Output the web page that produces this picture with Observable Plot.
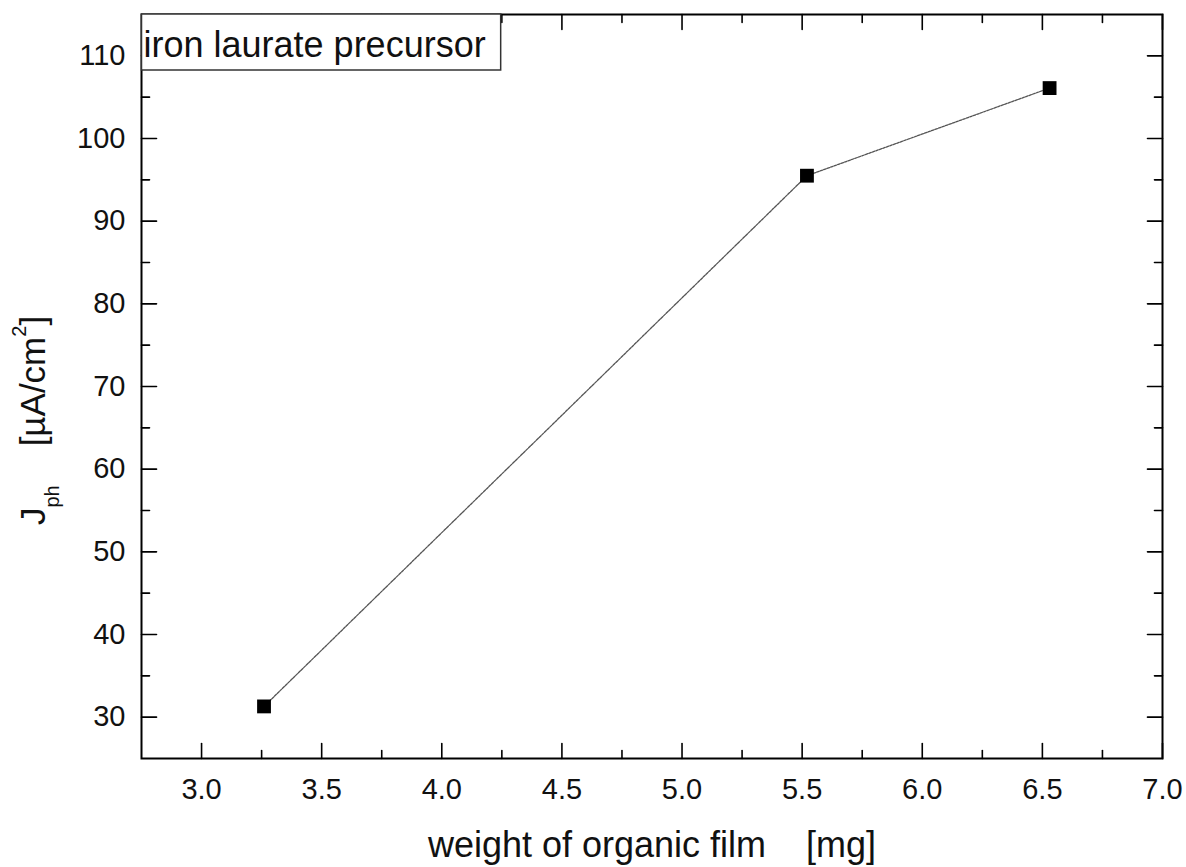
<!DOCTYPE html>
<html>
<head>
<meta charset="utf-8">
<script src="https://cdn.jsdelivr.net/npm/d3@7"></script>
<script src="https://cdn.jsdelivr.net/npm/@observablehq/plot@0.6"></script>
<style>
  html, body { margin: 0; padding: 0; background: white; }
  #chart { width: 1186px; height: 867px; }
</style>
</head>
<body>
<div id="chart"></div>
<script>
// ---- data ----
const weights = [3.26, 5.52, 6.53];          // weight of organic film [mg]
const currents = [31.3, 95.5, 106.1];        // J_ph [µA/cm²]
const xMajorTicks = [3.0, 3.5, 4.0, 4.5, 5.0, 5.5, 6.0, 6.5, 7.0];
const xMinorTicks = [3.25, 3.75, 4.25, 4.75, 5.25, 5.75, 6.25, 6.75];
const yMajorTicks = [30, 40, 50, 60, 70, 80, 90, 100, 110];
const yMinorTicks = [35, 45, 55, 65, 75, 85, 95, 105];
const xDomain = [2.75, 7.0];
const yDomain = [25, 115];
const legendLabel = "iron laurate precursor";
const xTitle = "weight of organic film\u00a0\u00a0\u00a0\u00a0[mg]";
const yTitleMain = "J";
const yTitleSub = "ph";
const yTitleUnit = "\u00a0\u00a0\u00a0\u00a0[\u00b5A/cm";
const yTitleSup = "2";
const yTitleEnd = "]";

const points = weights.map((w, i) => ({w, j: currents[i]}));

const FONT = '"Liberation Sans", Arial, Helvetica, sans-serif';
const tickLine = {draw(context, l) { context.moveTo(0, 0); context.lineTo(0, -l); }};
const MAJOR = 15, MINOR = 8;

function ticksX(values, len, anchor) {
  return Plot.vector(values, {
    x: d => d, frameAnchor: anchor, length: len, anchor: "start",
    rotate: anchor === "bottom" ? 0 : 180, shape: tickLine,
    stroke: "black", strokeWidth: 1.6
  });
}
function ticksY(values, len, anchor) {
  return Plot.vector(values, {
    y: d => d, frameAnchor: anchor, length: len, anchor: "start",
    rotate: anchor === "left" ? 90 : -90, shape: tickLine,
    stroke: "black", strokeWidth: 1.6
  });
}

const svg = Plot.plot({
  width: 1186,
  height: 867,
  marginLeft: 141,
  marginRight: 24,
  marginTop: 14,
  marginBottom: 109,
  style: {fontFamily: FONT, fontSize: "29px", background: "white", color: "black"},
  x: {domain: xDomain},
  y: {domain: yDomain},
  marks: [
    Plot.axisX({ticks: xMajorTicks, tickSize: 0, tickPadding: 20, tickFormat: d3.format(".1f"),
                label: null, fontSize: 29, fill: "#111"}),
    Plot.axisY({ticks: yMajorTicks, tickSize: 0, tickPadding: 16, tickFormat: d3.format("d"),
                label: null, fontSize: 29, fill: "#111"}),
    ticksX(xMajorTicks, MAJOR, "bottom"),
    ticksX(xMinorTicks, MINOR, "bottom"),
    ticksX(xMajorTicks, MAJOR, "top"),
    ticksX(xMinorTicks, MINOR, "top"),
    ticksY(yMajorTicks, MAJOR, "left"),
    ticksY(yMinorTicks, MINOR, "left"),
    ticksY(yMajorTicks, MAJOR, "right"),
    ticksY(yMinorTicks, MINOR, "right"),
    Plot.line(points, {x: "w", y: "j", stroke: "#555", strokeWidth: 1.3, strokeDasharray: "2.5,1.2"}),
    Plot.dot(points, {x: "w", y: "j", symbol: "square", r: 7.8, fill: "black", stroke: "none"}),
    Plot.frame({stroke: "black", strokeWidth: 2}),
    Plot.text([xTitle], {text: d => d, frameAnchor: "bottom", dy: 87, lineAnchor: "middle",
                         fontSize: 36, fill: "#111"}),
    Plot.text([legendLabel], {text: d => d, frameAnchor: "top-left", dx: 2, dy: 17,
                              lineAnchor: "top", textAnchor: "start", fontSize: 36, fill: "#111",
                              className: "legend-text"})
  ]
});

document.getElementById("chart").appendChild(svg);

// legend box around the legend text (measured in screen space)
const legendGroup = svg.querySelector(".legend-text");
if (legendGroup) {
  const tr = legendGroup.getBoundingClientRect();
  const sr = svg.getBoundingClientRect();
  const left = tr.left - sr.left;
  const right = tr.right - sr.left;
  const box = d3.create("svg:rect")
    .attr("x", left - 2)
    .attr("y", 14)
    .attr("width", right - left + 17)
    .attr("height", 56)
    .attr("fill", "white")
    .attr("stroke", "#333")
    .attr("stroke-width", 1.5);
  legendGroup.parentNode.insertBefore(box.node(), legendGroup);
}

// rotated y-axis title with subscript and superscript
const yt = d3.select(svg).append("text")
  .attr("transform", "translate(45,525) rotate(-90)")
  .attr("text-anchor", "start")
  .attr("font-family", FONT)
  .attr("font-size", 35)
  .attr("fill", "#111");
yt.append("tspan").text(yTitleMain);
yt.append("tspan").attr("font-size", 20).attr("dy", 14).text(yTitleSub);
yt.append("tspan").attr("font-size", 35).attr("dy", -14).text(yTitleUnit);
yt.append("tspan").attr("font-size", 20).attr("dy", -19).text(yTitleSup);
yt.append("tspan").attr("font-size", 35).attr("dy", 19).text(yTitleEnd);
</script>
</body>
</html>
